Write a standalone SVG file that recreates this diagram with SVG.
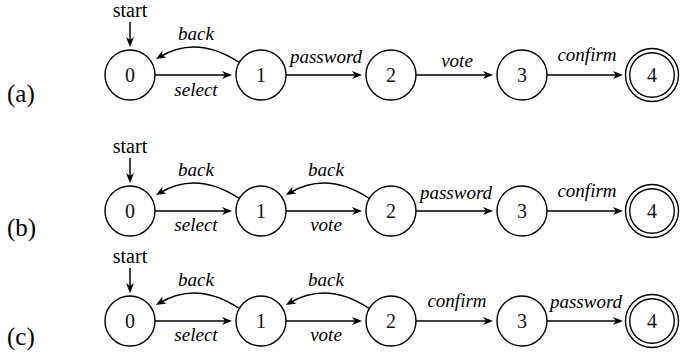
<svg xmlns="http://www.w3.org/2000/svg" width="699" height="356" viewBox="0 0 699 356" font-family="Liberation Serif, DejaVu Serif, serif">
<style>
.st{fill:#fff;stroke:#000;stroke-width:1.4}
.num{font-size:20px;text-anchor:middle;fill:#111}
.lbl{font-size:19px;font-style:italic;text-anchor:middle;fill:#000}
.start{font-size:20px;text-anchor:middle;fill:#000}
.row{font-size:25px;fill:#000}
.e{fill:none;stroke:#000;stroke-width:1.5;marker-end:url(#ah)}
</style>
<defs>
<marker id="ah" markerUnits="userSpaceOnUse" viewBox="-7 -5 12 10" refX="0" refY="0" markerWidth="12" markerHeight="10" orient="auto" overflow="visible">
<path d="M4,0 L-6,-4 L-3,0 L-6,4 Z" fill="#000"/>
</marker>
</defs>

<text class="row" x="7" y="102" font-family="Liberation Serif">(a)</text>
<text class="row" x="7" y="236" font-family="Liberation Serif">(b)</text>
<text class="row" x="7" y="345" font-family="Liberation Serif">(c)</text>

<!-- Row (a) -->
<g id="a-q0"><circle class="st" cx="130" cy="75" r="25"/><text class="num" x="130" y="82">0</text></g>
<g id="a-q1"><circle class="st" cx="261" cy="75" r="25"/><text class="num" x="261" y="82">1</text></g>
<g id="a-q2"><circle class="st" cx="391" cy="75" r="25"/><text class="num" x="391" y="82">2</text></g>
<g id="a-q3"><circle class="st" cx="522" cy="75" r="25"/><text class="num" x="522" y="82">3</text></g>
<g id="a-q4"><circle class="st" cx="652" cy="75" r="26.5"/><circle class="st" cx="652" cy="75" r="22.3"/><text class="num" x="652" y="82">4</text></g>

<!-- Row (b) -->
<g id="b-q0"><circle class="st" cx="130" cy="211" r="25"/><text class="num" x="130" y="218">0</text></g>
<g id="b-q1"><circle class="st" cx="261" cy="211" r="25"/><text class="num" x="261" y="218">1</text></g>
<g id="b-q2"><circle class="st" cx="391" cy="211" r="25"/><text class="num" x="391" y="218">2</text></g>
<g id="b-q3"><circle class="st" cx="522" cy="211" r="25"/><text class="num" x="522" y="218">3</text></g>
<g id="b-q4"><circle class="st" cx="652" cy="211" r="26.5"/><circle class="st" cx="652" cy="211" r="22.3"/><text class="num" x="652" y="218">4</text></g>

<!-- Row (c) -->
<g id="c-q0"><circle class="st" cx="130" cy="321" r="25"/><text class="num" x="130" y="328">0</text></g>
<g id="c-q1"><circle class="st" cx="261" cy="321" r="25"/><text class="num" x="261" y="328">1</text></g>
<g id="c-q2"><circle class="st" cx="391" cy="321" r="25"/><text class="num" x="391" y="328">2</text></g>
<g id="c-q3"><circle class="st" cx="522" cy="321" r="25"/><text class="num" x="522" y="328">3</text></g>
<g id="c-q4"><circle class="st" cx="652" cy="321" r="26.5"/><circle class="st" cx="652" cy="321" r="22.3"/><text class="num" x="652" y="328">4</text></g>

<g id="connectors">
<!-- (a) -->
<path class="e" d="M130,22 V43"/>
<path class="e" d="M155,75 H228"/>
<path class="e" d="M239.3,62.5 C210,43 183,43 159.4,57"/>
<path class="e" d="M286,75 H358"/>
<path class="e" d="M416,75 H489"/>
<path class="e" d="M547,75 H619"/>
<!-- (b) -->
<path class="e" d="M130,158 V179"/>
<path class="e" d="M155,211 H228"/>
<path class="e" d="M239.3,198.5 C210,179 183,179 159.4,193"/>
<path class="e" d="M286,211 H358"/>
<path class="e" d="M369.3,198.5 C340,179 313,179 289.4,193"/>
<path class="e" d="M416,211 H489"/>
<path class="e" d="M547,211 H619"/>
<!-- (c) -->
<path class="e" d="M130,268 V289"/>
<path class="e" d="M155,321 H228"/>
<path class="e" d="M239.3,308.5 C210,289 183,289 159.4,303"/>
<path class="e" d="M286,321 H358"/>
<path class="e" d="M369.3,308.5 C340,289 313,289 289.4,303"/>
<path class="e" d="M416,321 H489"/>
<path class="e" d="M547,321 H619"/>

<!-- labels (a) -->
<text class="start" x="130" y="17">start</text>
<text class="lbl" x="196" y="40">back</text>
<text class="lbl" x="196" y="96">select</text>
<text class="lbl" x="326" y="63">password</text>
<text class="lbl" x="457" y="67">vote</text>
<text class="lbl" x="587" y="61">confirm</text>
<!-- labels (b) -->
<text class="start" x="130" y="153">start</text>
<text class="lbl" x="196" y="176">back</text>
<text class="lbl" x="196" y="231">select</text>
<text class="lbl" x="326" y="176">back</text>
<text class="lbl" x="326" y="231">vote</text>
<text class="lbl" x="456" y="199">password</text>
<text class="lbl" x="587" y="197">confirm</text>
<!-- labels (c) -->
<text class="start" x="130" y="263">start</text>
<text class="lbl" x="196" y="286">back</text>
<text class="lbl" x="196" y="341">select</text>
<text class="lbl" x="326" y="286">back</text>
<text class="lbl" x="326" y="341">vote</text>
<text class="lbl" x="457" y="307">confirm</text>
<text class="lbl" x="586" y="308">password</text>
</g>
</svg>
